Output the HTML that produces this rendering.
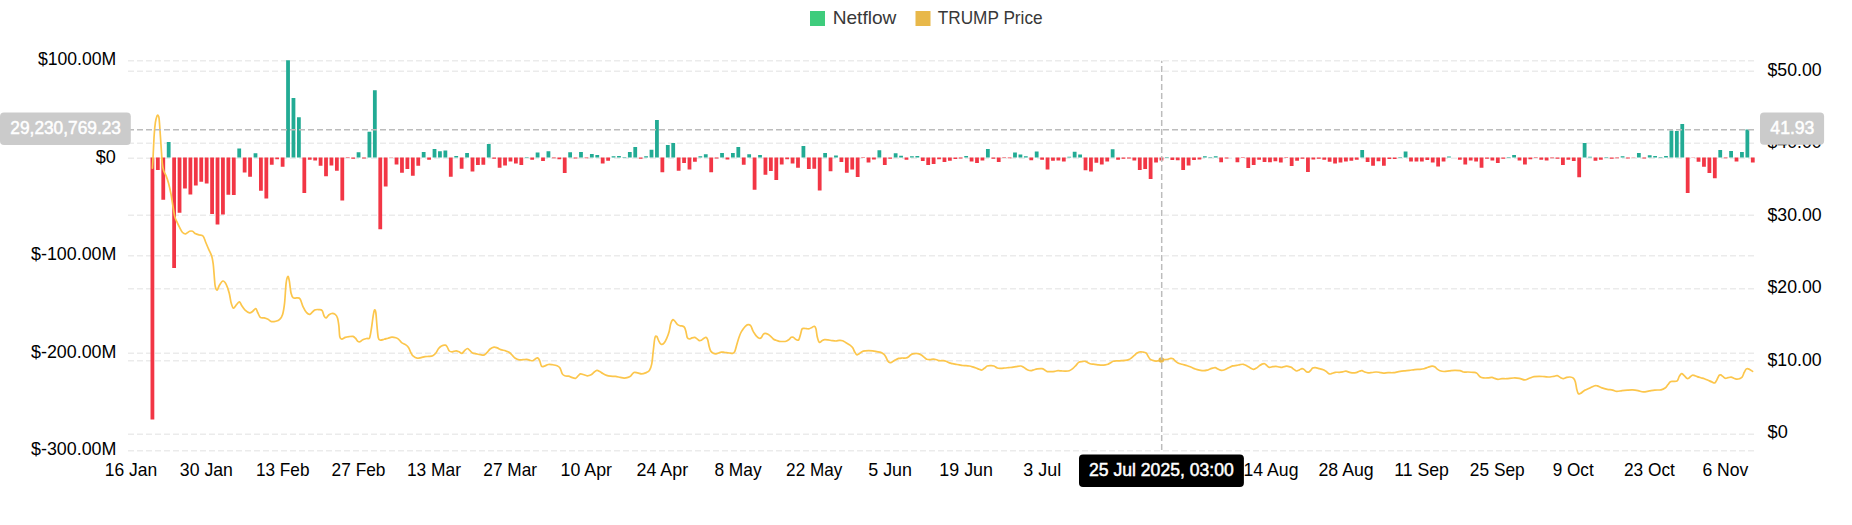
<!DOCTYPE html>
<html><head><meta charset="utf-8"><title>Netflow vs TRUMP Price</title>
<style>html,body{margin:0;padding:0;background:#fff;width:1852px;height:525px;overflow:hidden}</style>
</head><body>
<svg width="1852" height="525" viewBox="0 0 1852 525" style="display:block">
<g stroke="#ebebeb" stroke-width="1.5" stroke-dasharray="6 3" fill="none">
<line x1="128.0" y1="60.75" x2="1755.5" y2="60.75"/>
<line x1="128.0" y1="158.25" x2="1755.5" y2="158.25"/>
<line x1="128.0" y1="255.75" x2="1755.5" y2="255.75"/>
<line x1="128.0" y1="353.25" x2="1755.5" y2="353.25"/>
<line x1="128.0" y1="450.75" x2="1755.5" y2="450.75"/>
<line x1="128.0" y1="71.25" x2="1755.5" y2="71.25"/>
<line x1="128.0" y1="143.25" x2="1755.5" y2="143.25"/>
<line x1="128.0" y1="215.25" x2="1755.5" y2="215.25"/>
<line x1="128.0" y1="288.75" x2="1755.5" y2="288.75"/>
<line x1="128.0" y1="360.75" x2="1755.5" y2="360.75"/>
<line x1="128.0" y1="434.25" x2="1755.5" y2="434.25"/>
</g>
<path fill="#f23645" d="M150.52 157.4h3.79v262h-3.79zM155.94 157.4h3.79v12.5h-3.79zM161.37 157.4h3.79v42.4h-3.79zM172.22 157.4h3.79v110.7h-3.79zM177.64 157.4h3.79v55.3h-3.79zM183.07 157.4h3.79v31.2h-3.79zM188.49 157.4h3.79v37.1h-3.79zM193.92 157.4h3.79v28.2h-3.79zM199.34 157.4h3.79v24.4h-3.79zM204.77 157.4h3.79v26h-3.79zM210.19 157.4h3.79v56.5h-3.79zM215.62 157.4h3.79v67.2h-3.79zM221.04 157.4h3.79v57.2h-3.79zM226.47 157.4h3.79v37.3h-3.79zM231.89 157.4h3.79v37.6h-3.79zM242.74 157.4h3.79v15.2h-3.79zM248.17 157.4h3.79v19.3h-3.79zM259.02 157.4h3.79v33.4h-3.79zM264.44 157.4h3.79v41.2h-3.79zM269.87 157.4h3.79v7.4h-3.79zM275.29 157.4h3.79v1.8h-3.79zM280.72 157.4h3.79v9.3h-3.79zM302.42 157.4h3.79v35.7h-3.79zM307.84 157.4h3.79v2.3h-3.79zM313.27 157.4h3.79v3h-3.79zM318.69 157.4h3.79v8.4h-3.79zM324.12 157.4h3.79v18.8h-3.79zM329.54 157.4h3.79v8.2h-3.79zM334.97 157.4h3.79v13.4h-3.79zM340.39 157.4h3.79v43.1h-3.79zM345.82 157.4h3.79v0.6h-3.79zM351.24 157.4h3.79v1.4h-3.79zM362.09 157.4h3.79v1.1h-3.79zM378.37 157.4h3.79v71.8h-3.79zM383.79 157.4h3.79v29.2h-3.79zM389.22 157.4h3.79v0.4h-3.79zM394.64 157.4h3.79v7.2h-3.79zM400.07 157.4h3.79v15.4h-3.79zM405.49 157.4h3.79v11.6h-3.79zM410.92 157.4h3.79v18.4h-3.79zM416.34 157.4h3.79v8.4h-3.79zM427.19 157.4h3.79v2.3h-3.79zM448.89 157.4h3.79v19.3h-3.79zM459.74 157.4h3.79v11.4h-3.79zM470.59 157.4h3.79v14.1h-3.79zM476.02 157.4h3.79v7.6h-3.79zM481.44 157.4h3.79v7.4h-3.79zM492.29 157.4h3.79v1.3h-3.79zM497.72 157.4h3.79v10.3h-3.79zM503.14 157.4h3.79v8.1h-3.79zM508.57 157.4h3.79v4.2h-3.79zM513.99 157.4h3.79v6.2h-3.79zM519.42 157.4h3.79v7.6h-3.79zM530.27 157.4h3.79v2.3h-3.79zM541.12 157.4h3.79v3.5h-3.79zM551.97 157.4h3.79v0.9h-3.79zM557.39 157.4h3.79v1.8h-3.79zM562.82 157.4h3.79v15.6h-3.79zM573.67 157.4h3.79v1.1h-3.79zM584.52 157.4h3.79v0.9h-3.79zM600.79 157.4h3.79v6.2h-3.79zM606.22 157.4h3.79v3.3h-3.79zM638.77 157.4h3.79v1.3h-3.79zM660.47 157.4h3.79v14.8h-3.79zM676.74 157.4h3.79v13.3h-3.79zM682.17 157.4h3.79v5.5h-3.79zM687.59 157.4h3.79v12h-3.79zM693.02 157.4h3.79v4.3h-3.79zM709.29 157.4h3.79v14.8h-3.79zM714.72 157.4h3.79v1.2h-3.79zM725.57 157.4h3.79v2h-3.79zM741.84 157.4h3.79v7.4h-3.79zM752.69 157.4h3.79v32.3h-3.79zM763.54 157.4h3.79v17.4h-3.79zM768.97 157.4h3.79v13.7h-3.79zM774.39 157.4h3.79v22.5h-3.79zM779.82 157.4h3.79v7.2h-3.79zM785.24 157.4h3.79v1.8h-3.79zM790.67 157.4h3.79v6h-3.79zM796.09 157.4h3.79v10.3h-3.79zM806.94 157.4h3.79v11.6h-3.79zM812.37 157.4h3.79v11.3h-3.79zM817.79 157.4h3.79v33h-3.79zM828.64 157.4h3.79v13.9h-3.79zM839.49 157.4h3.79v4.5h-3.79zM844.92 157.4h3.79v15.4h-3.79zM850.34 157.4h3.79v12h-3.79zM855.77 157.4h3.79v19.5h-3.79zM861.19 157.4h3.79v0.6h-3.79zM866.62 157.4h3.79v5.2h-3.79zM872.04 157.4h3.79v2h-3.79zM882.89 157.4h3.79v7.7h-3.79zM888.32 157.4h3.79v1.3h-3.79zM904.59 157.4h3.79v2.3h-3.79zM920.87 157.4h3.79v3.5h-3.79zM926.29 157.4h3.79v7.7h-3.79zM931.72 157.4h3.79v6.7h-3.79zM937.14 157.4h3.79v1.8h-3.79zM942.57 157.4h3.79v4.5h-3.79zM947.99 157.4h3.79v3.3h-3.79zM953.42 157.4h3.79v1.5h-3.79zM958.84 157.4h3.79v1.1h-3.79zM969.69 157.4h3.79v4.2h-3.79zM975.12 157.4h3.79v5.6h-3.79zM980.54 157.4h3.79v3h-3.79zM991.39 157.4h3.79v1.3h-3.79zM996.82 157.4h3.79v4.5h-3.79zM1002.24 157.4h3.79v0.6h-3.79zM1007.67 157.4h3.79v0.9h-3.79zM1029.37 157.4h3.79v2.8h-3.79zM1040.22 157.4h3.79v2.3h-3.79zM1045.64 157.4h3.79v12.2h-3.79zM1051.07 157.4h3.79v3.3h-3.79zM1056.49 157.4h3.79v3h-3.79zM1061.92 157.4h3.79v4h-3.79zM1083.62 157.4h3.79v12.9h-3.79zM1089.04 157.4h3.79v14.2h-3.79zM1094.47 157.4h3.79v5.4h-3.79zM1099.89 157.4h3.79v7.1h-3.79zM1105.32 157.4h3.79v4.2h-3.79zM1116.17 157.4h3.79v2.3h-3.79zM1121.59 157.4h3.79v1.3h-3.79zM1127.02 157.4h3.79v1.1h-3.79zM1132.44 157.4h3.79v3h-3.79zM1137.87 157.4h3.79v12.5h-3.79zM1143.29 157.4h3.79v11.6h-3.79zM1148.72 157.4h3.79v21.7h-3.79zM1154.14 157.4h3.79v5h-3.79zM1159.57 157.4h3.79v3.2h-3.79zM1170.42 157.4h3.79v2.5h-3.79zM1175.84 157.4h3.79v2.8h-3.79zM1181.27 157.4h3.79v12.7h-3.79zM1186.69 157.4h3.79v8.1h-3.79zM1192.12 157.4h3.79v2.7h-3.79zM1197.54 157.4h3.79v2h-3.79zM1219.24 157.4h3.79v4.8h-3.79zM1224.67 157.4h3.79v1.1h-3.79zM1230.09 157.4h3.79v0.2h-3.79zM1235.52 157.4h3.79v4.8h-3.79zM1240.94 157.4h3.79v0.6h-3.79zM1246.37 157.4h3.79v10.6h-3.79zM1251.79 157.4h3.79v7.6h-3.79zM1257.22 157.4h3.79v2.3h-3.79zM1262.64 157.4h3.79v4.5h-3.79zM1268.07 157.4h3.79v4.8h-3.79zM1273.49 157.4h3.79v3.8h-3.79zM1278.92 157.4h3.79v5.2h-3.79zM1284.34 157.4h3.79v0.6h-3.79zM1289.77 157.4h3.79v8.6h-3.79zM1295.19 157.4h3.79v3.3h-3.79zM1300.62 157.4h3.79v1.3h-3.79zM1306.04 157.4h3.79v14.7h-3.79zM1311.47 157.4h3.79v2h-3.79zM1316.89 157.4h3.79v1.3h-3.79zM1322.32 157.4h3.79v2.3h-3.79zM1327.74 157.4h3.79v4.3h-3.79zM1333.17 157.4h3.79v6.2h-3.79zM1338.59 157.4h3.79v5.2h-3.79zM1344.02 157.4h3.79v4.2h-3.79zM1349.44 157.4h3.79v3.3h-3.79zM1354.87 157.4h3.79v2.3h-3.79zM1365.72 157.4h3.79v4.5h-3.79zM1371.14 157.4h3.79v8.4h-3.79zM1376.57 157.4h3.79v3.8h-3.79zM1381.99 157.4h3.79v8.4h-3.79zM1387.42 157.4h3.79v1.5h-3.79zM1392.84 157.4h3.79v1.5h-3.79zM1409.12 157.4h3.79v4h-3.79zM1414.54 157.4h3.79v4h-3.79zM1419.97 157.4h3.79v4.2h-3.79zM1425.39 157.4h3.79v2.7h-3.79zM1430.82 157.4h3.79v5.1h-3.79zM1436.24 157.4h3.79v9.1h-3.79zM1441.67 157.4h3.79v4.2h-3.79zM1452.52 157.4h3.79v0.2h-3.79zM1457.94 157.4h3.79v2.3h-3.79zM1463.37 157.4h3.79v7.2h-3.79zM1468.79 157.4h3.79v3.2h-3.79zM1474.22 157.4h3.79v4h-3.79zM1479.64 157.4h3.79v10.3h-3.79zM1485.07 157.4h3.79v1.3h-3.79zM1490.49 157.4h3.79v3h-3.79zM1495.92 157.4h3.79v5.7h-3.79zM1501.34 157.4h3.79v1.3h-3.79zM1517.62 157.4h3.79v3h-3.79zM1523.04 157.4h3.79v7.1h-3.79zM1528.47 157.4h3.79v1.8h-3.79zM1533.89 157.4h3.79v0.6h-3.79zM1539.32 157.4h3.79v2.3h-3.79zM1544.74 157.4h3.79v3h-3.79zM1550.17 157.4h3.79v0.9h-3.79zM1555.59 157.4h3.79v1.3h-3.79zM1561.02 157.4h3.79v7.7h-3.79zM1566.44 157.4h3.79v2.3h-3.79zM1571.87 157.4h3.79v3.5h-3.79zM1577.29 157.4h3.79v19.8h-3.79zM1593.57 157.4h3.79v3.3h-3.79zM1598.99 157.4h3.79v2.3h-3.79zM1609.84 157.4h3.79v1.3h-3.79zM1615.27 157.4h3.79v0.9h-3.79zM1626.12 157.4h3.79v1.2h-3.79zM1631.54 157.4h3.79v0.3h-3.79zM1642.39 157.4h3.79v1h-3.79zM1685.79 157.4h3.79v35.6h-3.79zM1691.22 157.4h3.79v0.4h-3.79zM1696.64 157.4h3.79v4.3h-3.79zM1702.07 157.4h3.79v9.3h-3.79zM1707.49 157.4h3.79v15.6h-3.79zM1712.92 157.4h3.79v20.8h-3.79zM1723.77 157.4h3.79v0.9h-3.79zM1734.62 157.4h3.79v4.1h-3.79zM1750.89 157.4h3.79v5.2h-3.79z"/>
<path fill="#22ab94" d="M166.79 142h3.79v15.4h-3.79zM237.32 148.6h3.79v8.8h-3.79zM253.59 153.3h3.79v4.1h-3.79zM286.14 60.2h3.79v97.2h-3.79zM291.57 97.9h3.79v59.5h-3.79zM296.99 117.2h3.79v40.2h-3.79zM356.67 152.3h3.79v5.1h-3.79zM367.52 131.7h3.79v25.7h-3.79zM372.94 90.3h3.79v67.1h-3.79zM421.77 151.9h3.79v5.5h-3.79zM432.62 149.1h3.79v8.3h-3.79zM438.04 151.3h3.79v6.1h-3.79zM443.47 150.5h3.79v6.9h-3.79zM454.32 156h3.79v1.4h-3.79zM465.17 153.1h3.79v4.3h-3.79zM486.87 144.1h3.79v13.3h-3.79zM524.84 157h3.79v0.4h-3.79zM535.69 152.6h3.79v4.8h-3.79zM546.54 151.2h3.79v6.2h-3.79zM568.24 152.3h3.79v5.1h-3.79zM579.09 152.1h3.79v5.3h-3.79zM589.94 154.1h3.79v3.3h-3.79zM595.37 155.1h3.79v2.3h-3.79zM611.64 156.3h3.79v1.1h-3.79zM617.07 156h3.79v1.4h-3.79zM622.49 157h3.79v0.4h-3.79zM627.92 152.1h3.79v5.3h-3.79zM633.34 147h3.79v10.4h-3.79zM644.19 156.2h3.79v1.2h-3.79zM649.62 149.8h3.79v7.6h-3.79zM655.04 120h3.79v37.4h-3.79zM665.89 145h3.79v12.4h-3.79zM671.32 143h3.79v14.4h-3.79zM698.44 156.2h3.79v1.2h-3.79zM703.87 154.2h3.79v3.2h-3.79zM720.14 153h3.79v4.4h-3.79zM730.99 153h3.79v4.4h-3.79zM736.42 146.9h3.79v10.5h-3.79zM747.27 154.2h3.79v3.2h-3.79zM758.12 155h3.79v2.4h-3.79zM801.52 146h3.79v11.4h-3.79zM823.22 152.9h3.79v4.5h-3.79zM834.07 155.5h3.79v1.9h-3.79zM877.47 150.2h3.79v7.2h-3.79zM893.74 153.3h3.79v4.1h-3.79zM899.17 155.8h3.79v1.6h-3.79zM910.02 156.3h3.79v1.1h-3.79zM915.44 156h3.79v1.4h-3.79zM964.27 156h3.79v1.4h-3.79zM985.97 148.9h3.79v8.5h-3.79zM1013.09 152.6h3.79v4.8h-3.79zM1018.52 154.4h3.79v3h-3.79zM1023.94 156.2h3.79v1.2h-3.79zM1034.79 151.5h3.79v5.9h-3.79zM1067.34 156.7h3.79v0.7h-3.79zM1072.77 151.7h3.79v5.7h-3.79zM1078.19 154.4h3.79v3h-3.79zM1110.74 149.2h3.79v8.2h-3.79zM1164.99 157h3.79v0.4h-3.79zM1202.97 156.3h3.79v1.1h-3.79zM1208.39 157h3.79v0.4h-3.79zM1213.82 156.3h3.79v1.1h-3.79zM1360.29 149.9h3.79v7.5h-3.79zM1398.27 157h3.79v0.4h-3.79zM1403.69 151.5h3.79v5.9h-3.79zM1447.09 156.5h3.79v0.9h-3.79zM1506.77 157h3.79v0.4h-3.79zM1512.19 155.1h3.79v2.3h-3.79zM1582.72 142.9h3.79v14.5h-3.79zM1588.14 156.7h3.79v0.7h-3.79zM1604.42 157h3.79v0.4h-3.79zM1620.69 156.3h3.79v1.1h-3.79zM1636.97 153.1h3.79v4.3h-3.79zM1647.82 155.3h3.79v2.1h-3.79zM1653.24 156.1h3.79v1.3h-3.79zM1658.67 157.1h3.79v0.3h-3.79zM1664.09 156h3.79v1.4h-3.79zM1669.52 130.6h3.79v26.8h-3.79zM1674.94 130.9h3.79v26.5h-3.79zM1680.37 124.1h3.79v33.3h-3.79zM1718.34 150.1h3.79v7.3h-3.79zM1729.19 151.1h3.79v6.3h-3.79zM1740.04 152.1h3.79v5.3h-3.79zM1745.47 129.4h3.79v28h-3.79z"/>
<path d="M152.4 168.2C152.53 165.93 152.9 160.17 153.2 154.6C153.5 149.03 153.83 140.17 154.2 134.8C154.57 129.43 154.95 125.5 155.4 122.4C155.85 119.3 156.45 117.37 156.9 116.2C157.35 115.03 157.73 114.98 158.1 115.4C158.47 115.82 158.73 115.47 159.1 118.7C159.47 121.93 159.93 129.65 160.3 134.8C160.67 139.95 160.97 144.87 161.3 149.6C161.63 154.33 161.92 159.7 162.3 163.2C162.68 166.7 162.98 168.53 163.6 170.6C164.22 172.67 165.18 173.53 166 175.6C166.82 177.67 167.67 179.9 168.5 183C169.33 186.1 170.25 190.28 171 194.2C171.75 198.12 172.38 202.8 173 206.5C173.62 210.2 174.08 213.92 174.7 216.4C175.32 218.88 175.87 219.53 176.7 221.4C177.53 223.27 178.72 225.75 179.7 227.6C180.68 229.45 181.58 231.47 182.6 232.5C183.62 233.53 184.63 234 185.8 233.8C186.97 233.6 188.48 231.72 189.6 231.3C190.72 230.88 191.48 230.88 192.5 231.3C193.52 231.72 194.53 233.18 195.7 233.8C196.87 234.42 198.25 234.6 199.5 235C200.75 235.4 202.15 234.95 203.2 236.2C204.25 237.45 204.88 240.32 205.8 242.5C206.72 244.68 207.72 247.03 208.7 249.3C209.68 251.57 210.95 253.67 211.7 256.1C212.45 258.53 212.78 260.67 213.2 263.9C213.62 267.13 213.87 271.78 214.2 275.5C214.53 279.22 214.72 283.77 215.2 286.2C215.68 288.63 216.4 290.25 217.1 290.1C217.8 289.95 218.43 286.82 219.4 285.3C220.37 283.78 221.77 281.17 222.9 281C224.03 280.83 225.15 282.3 226.2 284.3C227.25 286.3 228.38 289.92 229.2 293C230.02 296.08 230.4 300.27 231.1 302.8C231.8 305.33 232.5 307.88 233.4 308.2C234.3 308.52 235.48 305.77 236.5 304.7C237.52 303.63 238.62 301.63 239.5 301.8C240.38 301.97 240.87 304.32 241.8 305.7C242.73 307.08 243.8 308.9 245.1 310.1C246.4 311.3 248.37 312.67 249.6 312.9C250.83 313.13 251.47 312.22 252.5 311.5C253.53 310.78 254.93 308.43 255.8 308.6C256.67 308.77 256.95 311.05 257.7 312.5C258.45 313.95 259.22 316.4 260.3 317.3C261.38 318.2 262.92 317.57 264.2 317.9C265.48 318.23 266.78 318.68 268 319.3C269.22 319.92 270.2 321.28 271.5 321.6C272.8 321.92 274.43 321.58 275.8 321.2C277.17 320.82 278.57 320.43 279.7 319.3C280.83 318.17 281.78 317.15 282.6 314.4C283.42 311.65 284.02 307.98 284.6 302.8C285.18 297.62 285.55 287.68 286.1 283.3C286.65 278.92 287.35 276.82 287.9 276.5C288.45 276.18 288.88 278.65 289.4 281.4C289.92 284.15 290.35 290.25 291 293C291.65 295.75 292.33 297.08 293.3 297.9C294.27 298.72 295.67 297.73 296.8 297.9C297.93 298.07 299.07 297.45 300.1 298.9C301.13 300.35 301.93 304.33 303 306.6C304.07 308.87 305.37 311.2 306.5 312.5C307.63 313.8 308.43 314.82 309.8 314.4C311.17 313.98 313.17 310.8 314.7 310C316.23 309.2 317.77 309.52 319 309.6C320.23 309.68 321.22 309.37 322.1 310.5C322.98 311.63 323.62 315.17 324.3 316.4C324.98 317.63 325.47 318.13 326.2 317.9C326.93 317.67 327.78 315.73 328.7 315C329.62 314.27 330.62 313.6 331.7 313.5C332.78 313.4 334.23 313.67 335.2 314.4C336.17 315.13 336.88 315.95 337.5 317.9C338.12 319.85 338.52 322.95 338.9 326.1C339.28 329.25 339.32 334.63 339.8 336.8C340.28 338.97 340.88 339 341.8 339.1C342.72 339.2 344.07 337.82 345.3 337.4C346.53 336.98 347.92 336.77 349.2 336.6C350.48 336.43 351.97 336.13 353 336.4C354.03 336.67 354.58 337.38 355.4 338.2C356.22 339.02 357.15 340.72 357.9 341.3C358.65 341.88 359.08 341.97 359.9 341.7C360.72 341.43 361.67 340.23 362.8 339.7C363.93 339.17 365.57 338.82 366.7 338.5C367.83 338.18 368.8 339.55 369.6 337.8C370.4 336.05 370.92 331.57 371.5 328C372.08 324.43 372.62 319.37 373.1 316.4C373.58 313.43 373.95 310.85 374.4 310.2C374.85 309.55 375.37 309.85 375.8 312.5C376.23 315.15 376.58 321.88 377 326.1C377.42 330.32 377.75 335.47 378.3 337.8C378.85 340.13 379.32 339.85 380.3 340.1C381.28 340.35 382.92 339.62 384.2 339.3C385.48 338.98 386.72 338.55 388 338.2C389.28 337.85 390.6 337.27 391.9 337.2C393.2 337.13 394.67 337.45 395.8 337.8C396.93 338.15 397.73 338.5 398.7 339.3C399.67 340.1 400.47 341.72 401.6 342.6C402.73 343.48 404.35 343.78 405.5 344.6C406.65 345.42 407.58 346.12 408.5 347.5C409.42 348.88 410.2 351.45 411 352.9C411.8 354.35 412.27 355.32 413.3 356.2C414.33 357.08 415.9 357.97 417.2 358.2C418.5 358.43 419.8 357.87 421.1 357.6C422.4 357.33 423.7 356.8 425 356.6C426.3 356.4 427.6 356.55 428.9 356.4C430.2 356.25 431.67 356.22 432.8 355.7C433.93 355.18 434.73 354.5 435.7 353.3C436.67 352.1 437.63 349.73 438.6 348.5C439.57 347.27 440.37 346.45 441.5 345.9C442.63 345.35 444.43 345 445.4 345.2C446.37 345.4 446.65 346.13 447.3 347.1C447.95 348.07 448.48 350.22 449.3 351C450.12 351.78 451.07 351.83 452.2 351.8C453.33 351.77 454.97 350.8 456.1 350.8C457.23 350.8 458.03 351.38 459 351.8C459.97 352.22 460.93 353.53 461.9 353.3C462.87 353.07 463.88 351.2 464.8 350.4C465.72 349.6 466.58 348.5 467.4 348.5C468.22 348.5 468.83 349.67 469.7 350.4C470.57 351.13 471.47 352.32 472.6 352.9C473.73 353.48 475.2 353.6 476.5 353.9C477.8 354.2 479.1 354.53 480.4 354.7C481.7 354.87 483.17 355.3 484.3 354.9C485.43 354.5 486.23 353.28 487.2 352.3C488.17 351.32 488.97 349.87 490.1 349C491.23 348.13 492.8 347.28 494 347.1C495.2 346.92 496.18 347.48 497.3 347.9C498.42 348.32 499.32 349.1 500.7 349.6C502.08 350.1 504.15 350.42 505.6 350.9C507.05 351.38 508.27 351.75 509.4 352.5C510.53 353.25 511.42 354.43 512.4 355.4C513.38 356.37 514.17 357.55 515.3 358.3C516.43 359.05 517.92 359.67 519.2 359.9C520.48 360.13 521.72 359.8 523 359.7C524.28 359.6 525.75 359.2 526.9 359.3C528.05 359.4 528.92 360.07 529.9 360.3C530.88 360.53 531.83 360.97 532.8 360.7C533.77 360.43 534.9 359.17 535.7 358.7C536.5 358.23 536.95 357.63 537.6 357.9C538.25 358.17 538.95 358.93 539.6 360.3C540.25 361.67 540.7 365.13 541.5 366.1C542.3 367.07 543.27 366.37 544.4 366.1C545.53 365.83 547 364.73 548.3 364.5C549.6 364.27 550.73 364.5 552.2 364.7C553.67 364.9 555.8 365.15 557.1 365.7C558.4 366.25 559.13 366.63 560 368C560.87 369.37 561.5 372.6 562.3 373.9C563.1 375.2 563.73 375.42 564.8 375.8C565.87 376.18 567.57 375.93 568.7 376.2C569.83 376.47 570.47 377.05 571.6 377.4C572.73 377.75 574.45 378.5 575.5 378.3C576.55 378.1 577.08 376.93 577.9 376.2C578.72 375.47 579.5 374.18 580.4 373.9C581.3 373.62 582.17 374.18 583.3 374.5C584.43 374.82 585.9 375.75 587.2 375.8C588.5 375.85 589.97 375.38 591.1 374.8C592.23 374.22 593.03 373.03 594 372.3C594.97 371.57 595.93 370.53 596.9 370.4C597.87 370.27 598.82 370.98 599.8 371.5C600.78 372.02 601.67 372.85 602.8 373.5C603.93 374.15 605.32 374.95 606.6 375.4C607.88 375.85 609.03 376.03 610.5 376.2C611.97 376.37 613.78 376.2 615.4 376.4C617.02 376.6 618.75 377.12 620.2 377.4C621.65 377.68 622.8 378.1 624.1 378.1C625.4 378.1 626.87 377.78 628 377.4C629.13 377.02 629.92 376.62 630.9 375.8C631.88 374.98 632.77 372.98 633.9 372.5C635.03 372.02 636.42 372.67 637.7 372.9C638.98 373.13 640.3 373.9 641.6 373.9C642.9 373.9 644.2 373.48 645.5 372.9C646.8 372.32 648.37 371.85 649.4 370.4C650.43 368.95 651.05 367.52 651.7 364.2C652.35 360.88 652.77 354.88 653.3 350.5C653.83 346.12 654.32 340.23 654.9 337.9C655.48 335.57 656.17 336.02 656.8 336.5C657.43 336.98 657.98 339.5 658.7 340.8C659.42 342.1 660.22 343.9 661.1 344.3C661.98 344.7 663.07 344.2 664 343.2C664.93 342.2 665.85 340.22 666.7 338.3C667.55 336.38 668.43 334.13 669.1 331.7C669.77 329.27 670.1 325.7 670.7 323.7C671.3 321.7 672.03 320.15 672.7 319.7C673.37 319.25 673.93 320.23 674.7 321C675.47 321.77 676.42 323.52 677.3 324.3C678.18 325.08 679.1 325.4 680 325.7C680.9 326 681.92 325.77 682.7 326.1C683.48 326.43 684.15 326.77 684.7 327.7C685.25 328.63 685.57 330.03 686 331.7C686.43 333.37 686.75 336.48 687.3 337.7C687.85 338.92 688.52 338.97 689.3 339C690.08 339.03 691.1 338.17 692 337.9C692.9 337.63 693.92 337.28 694.7 337.4C695.48 337.52 695.93 338.07 696.7 338.6C697.47 339.13 698.53 340.32 699.3 340.6C700.07 340.88 700.52 340.68 701.3 340.3C702.08 339.92 703.22 338.78 704 338.3C704.78 337.82 705.38 337.17 706 337.4C706.62 337.63 707.18 338.22 707.7 339.7C708.22 341.18 708.6 344.42 709.1 346.3C709.6 348.18 710 349.83 710.7 351C711.4 352.17 712.42 352.83 713.3 353.3C714.18 353.77 715.1 353.85 716 353.8C716.9 353.75 717.82 353.28 718.7 353C719.58 352.72 720.42 352.22 721.3 352.1C722.18 351.98 723.1 352.2 724 352.3C724.9 352.4 725.82 352.58 726.7 352.7C727.58 352.82 728.3 352.9 729.3 353C730.3 353.1 731.8 353.52 732.7 353.3C733.6 353.08 734.03 353.08 734.7 351.7C735.37 350.32 736.03 347.23 736.7 345C737.37 342.77 738.03 340.3 738.7 338.3C739.37 336.3 740.03 334.43 740.7 333C741.37 331.57 741.93 330.82 742.7 329.7C743.47 328.58 744.42 327.13 745.3 326.3C746.18 325.47 747.1 324.8 748 324.7C748.9 324.6 749.92 324.77 750.7 325.7C751.48 326.63 752.03 328.97 752.7 330.3C753.37 331.63 754.03 332.7 754.7 333.7C755.37 334.7 755.93 335.53 756.7 336.3C757.47 337.07 758.53 338.07 759.3 338.3C760.07 338.53 760.63 338.37 761.3 337.7C761.97 337.03 762.63 335.03 763.3 334.3C763.97 333.57 764.52 333.3 765.3 333.3C766.08 333.3 767.1 333.8 768 334.3C768.9 334.8 769.82 335.52 770.7 336.3C771.58 337.08 772.42 338.33 773.3 339C774.18 339.67 775 339.92 776 340.3C777 340.68 778.18 341.1 779.3 341.3C780.42 341.5 781.58 341.5 782.7 341.5C783.82 341.5 785 341.6 786 341.3C787 341 787.82 340.37 788.7 339.7C789.58 339.03 790.53 337.7 791.3 337.3C792.07 336.9 792.52 336.95 793.3 337.3C794.08 337.65 795.1 338.97 796 339.4C796.9 339.83 797.92 340.85 798.7 339.9C799.48 338.95 800.15 335.52 800.7 333.7C801.25 331.88 801.45 329.9 802 329C802.55 328.1 803.22 328.35 804 328.3C804.78 328.25 805.82 328.63 806.7 328.7C807.58 328.77 808.42 328.92 809.3 328.7C810.18 328.48 811.15 327.8 812 327.4C812.85 327 813.73 326.03 814.4 326.3C815.07 326.57 815.52 327.22 816 329C816.48 330.78 816.75 334.78 817.3 337C817.85 339.22 818.52 341.68 819.3 342.3C820.08 342.92 821.1 341.13 822 340.7C822.9 340.27 823.7 339.83 824.7 339.7C825.7 339.57 826.78 339.75 828 339.9C829.22 340.05 830.67 340.42 832 340.6C833.33 340.78 834.78 341.03 836 341C837.22 340.97 838.18 340.45 839.3 340.4C840.42 340.35 841.58 340.32 842.7 340.7C843.82 341.08 844.78 341.97 846 342.7C847.22 343.43 848.88 344.27 850 345.1C851.12 345.93 851.92 346.55 852.7 347.7C853.48 348.85 854.03 350.83 854.7 352C855.37 353.17 856.03 354.37 856.7 354.7C857.37 355.03 857.82 354.5 858.7 354C859.58 353.5 860.9 352.22 862 351.7C863.1 351.18 864.18 351.07 865.3 350.9C866.42 350.73 867.47 350.7 868.7 350.7C869.93 350.7 871.37 350.75 872.7 350.9C874.03 351.05 875.37 351.35 876.7 351.6C878.03 351.85 879.48 351.93 880.7 352.4C881.92 352.87 883.12 353.58 884 354.4C884.88 355.22 885.33 356.15 886 357.3C886.67 358.45 887.33 360.4 888 361.3C888.67 362.2 889.22 362.65 890 362.7C890.78 362.75 891.82 362.05 892.7 361.6C893.58 361.15 894.3 360.53 895.3 360C896.3 359.47 897.58 358.73 898.7 358.4C899.82 358.07 900.78 358.07 902 358C903.22 357.93 904.88 358.22 906 358C907.12 357.78 907.82 357.3 908.7 356.7C909.58 356.1 910.3 354.92 911.3 354.4C912.3 353.88 913.58 353.72 914.7 353.6C915.82 353.48 916.9 353.48 918 353.7C919.1 353.92 920.3 354.33 921.3 354.9C922.3 355.47 923.1 356.37 924 357.1C924.9 357.83 925.7 358.88 926.7 359.3C927.7 359.72 928.9 359.63 930 359.6C931.1 359.57 932.18 359.08 933.3 359.1C934.42 359.12 935.7 359.43 936.7 359.7C937.7 359.97 938.2 360.53 939.3 360.7C940.4 360.87 942.18 360.6 943.3 360.7C944.42 360.8 945 360.93 946 361.3C947 361.67 948.18 362.5 949.3 362.9C950.42 363.3 951.58 363.47 952.7 363.7C953.82 363.93 954.9 364.1 956 364.3C957.1 364.5 958.18 364.7 959.3 364.9C960.42 365.1 961.58 365.38 962.7 365.5C963.82 365.62 964.9 365.52 966 365.6C967.1 365.68 968.18 365.78 969.3 366C970.42 366.22 971.58 366.57 972.7 366.9C973.82 367.23 974.9 367.6 976 368C977.1 368.4 978.3 368.97 979.3 369.3C980.3 369.63 981.1 370.22 982 370C982.9 369.78 983.82 368.67 984.7 368C985.58 367.33 986.3 366.38 987.3 366C988.3 365.62 989.58 365.7 990.7 365.7C991.82 365.7 992.9 365.62 994 366C995.1 366.38 996.18 367.62 997.3 368C998.42 368.38 999.47 368.3 1000.7 368.3C1001.93 368.3 1003.37 368.12 1004.7 368C1006.03 367.88 1007.48 367.72 1008.7 367.6C1009.92 367.48 1010.78 367.45 1012 367.3C1013.22 367.15 1014.55 366.92 1016 366.7C1017.45 366.48 1019.37 365.85 1020.7 366C1022.03 366.15 1022.9 366.98 1024 367.6C1025.1 368.22 1026.18 369.18 1027.3 369.7C1028.42 370.22 1029.58 370.7 1030.7 370.7C1031.82 370.7 1032.9 370 1034 369.7C1035.1 369.4 1035.97 369.07 1037.3 368.9C1038.63 368.73 1040.77 368.52 1042 368.7C1043.23 368.88 1043.82 369.52 1044.7 370C1045.58 370.48 1046.2 371.33 1047.3 371.6C1048.4 371.87 1050.07 371.65 1051.3 371.6C1052.53 371.55 1053.58 371.45 1054.7 371.3C1055.82 371.15 1056.9 370.77 1058 370.7C1059.1 370.63 1060.08 370.83 1061.3 370.9C1062.52 370.97 1063.97 371.13 1065.3 371.1C1066.63 371.07 1068.07 371.1 1069.3 370.7C1070.53 370.3 1071.58 369.6 1072.7 368.7C1073.82 367.8 1075 366.35 1076 365.3C1077 364.25 1077.7 363.02 1078.7 362.4C1079.7 361.78 1080.9 361.78 1082 361.6C1083.1 361.42 1084.3 361.12 1085.3 361.3C1086.3 361.48 1087 362.25 1088 362.7C1089 363.15 1090.18 363.73 1091.3 364C1092.42 364.27 1093.47 364.15 1094.7 364.3C1095.93 364.45 1097.48 364.77 1098.7 364.9C1099.92 365.03 1100.9 365.1 1102 365.1C1103.1 365.1 1104.3 365.03 1105.3 364.9C1106.3 364.77 1107.1 364.67 1108 364.3C1108.9 363.93 1109.82 363.2 1110.7 362.7C1111.58 362.2 1112.2 361.6 1113.3 361.3C1114.4 361 1115.97 361 1117.3 360.9C1118.63 360.8 1119.97 360.78 1121.3 360.7C1122.63 360.62 1124.07 360.58 1125.3 360.4C1126.53 360.22 1127.7 360 1128.7 359.6C1129.7 359.2 1130.42 358.65 1131.3 358C1132.18 357.35 1133.1 356.48 1134 355.7C1134.9 354.92 1135.82 353.92 1136.7 353.3C1137.58 352.68 1138.3 352.22 1139.3 352C1140.3 351.78 1141.58 351.85 1142.7 352C1143.82 352.15 1145.12 352.23 1146 352.9C1146.88 353.57 1147.33 354.97 1148 356C1148.67 357.03 1149.22 358.37 1150 359.1C1150.78 359.83 1151.7 360.07 1152.7 360.4C1153.7 360.73 1154.9 361.05 1156 361.1C1157.1 361.15 1158.42 360.88 1159.3 360.7C1160.18 360.52 1160.4 360.18 1161.3 360C1162.2 359.82 1163.58 359.72 1164.7 359.6C1165.82 359.48 1167 359.5 1168 359.3C1169 359.1 1169.87 358.5 1170.7 358.4C1171.53 358.3 1172.23 358.27 1173 358.7C1173.77 359.13 1174.47 360.28 1175.3 361C1176.13 361.72 1176.88 362.45 1178 363C1179.12 363.55 1180.45 363.85 1182 364.3C1183.55 364.75 1185.75 365.2 1187.3 365.7C1188.85 366.2 1189.97 366.75 1191.3 367.3C1192.63 367.85 1193.97 368.53 1195.3 369C1196.63 369.47 1197.85 369.82 1199.3 370.1C1200.75 370.38 1202.67 370.7 1204 370.7C1205.33 370.7 1206.3 370.38 1207.3 370.1C1208.3 369.82 1209.1 369.33 1210 369C1210.9 368.67 1211.82 368.32 1212.7 368.1C1213.58 367.88 1214.42 367.55 1215.3 367.7C1216.18 367.85 1217 368.57 1218 369C1219 369.43 1220.18 370.18 1221.3 370.3C1222.42 370.42 1223.47 370.13 1224.7 369.7C1225.93 369.27 1227.37 368.33 1228.7 367.7C1230.03 367.07 1231.37 366.28 1232.7 365.9C1234.03 365.52 1235.48 365.62 1236.7 365.4C1237.92 365.18 1238.9 364.78 1240 364.6C1241.1 364.42 1242.18 364.12 1243.3 364.3C1244.42 364.48 1245.58 365.13 1246.7 365.7C1247.82 366.27 1248.9 367.1 1250 367.7C1251.1 368.3 1252.3 369.2 1253.3 369.3C1254.3 369.4 1255 368.87 1256 368.3C1257 367.73 1258.3 366.6 1259.3 365.9C1260.3 365.2 1261.1 364.47 1262 364.1C1262.9 363.73 1263.92 363.48 1264.7 363.7C1265.48 363.92 1265.93 364.8 1266.7 365.4C1267.47 366 1268.3 367.08 1269.3 367.3C1270.3 367.52 1271.58 366.87 1272.7 366.7C1273.82 366.53 1274.9 366.25 1276 366.3C1277.1 366.35 1278.3 366.83 1279.3 367C1280.3 367.17 1281 367.42 1282 367.3C1283 367.18 1284.3 366.47 1285.3 366.3C1286.3 366.13 1287 366.13 1288 366.3C1289 366.47 1290.3 366.78 1291.3 367.3C1292.3 367.82 1293.1 368.78 1294 369.4C1294.9 370.02 1295.82 370.92 1296.7 371C1297.58 371.08 1298.42 370.3 1299.3 369.9C1300.18 369.5 1301.22 368.68 1302 368.6C1302.78 368.52 1303.33 368.93 1304 369.4C1304.67 369.87 1305.22 370.95 1306 371.4C1306.78 371.85 1307.92 372.28 1308.7 372.1C1309.48 371.92 1310.03 370.97 1310.7 370.3C1311.37 369.63 1311.93 368.53 1312.7 368.1C1313.47 367.67 1314.2 367.62 1315.3 367.7C1316.4 367.78 1317.97 368.27 1319.3 368.6C1320.63 368.93 1322.18 369.25 1323.3 369.7C1324.42 370.15 1325 370.6 1326 371.3C1327 372 1328.3 373.55 1329.3 373.9C1330.3 374.25 1331 373.67 1332 373.4C1333 373.13 1334.08 372.48 1335.3 372.3C1336.52 372.12 1338.07 372.37 1339.3 372.3C1340.53 372.23 1341.58 372.08 1342.7 371.9C1343.82 371.72 1344.67 371.07 1346 371.2C1347.33 371.33 1349.03 372.45 1350.7 372.7C1352.37 372.95 1354.57 372.93 1356 372.7C1357.43 372.47 1358.3 371.63 1359.3 371.3C1360.3 370.97 1361.1 370.58 1362 370.7C1362.9 370.82 1363.7 371.65 1364.7 372C1365.7 372.35 1366.78 372.72 1368 372.8C1369.22 372.88 1370.67 372.63 1372 372.5C1373.33 372.37 1374.78 372.03 1376 372C1377.22 371.97 1378.08 372.12 1379.3 372.3C1380.52 372.48 1381.85 373.03 1383.3 373.1C1384.75 373.17 1386.33 372.77 1388 372.7C1389.67 372.63 1391.52 372.87 1393.3 372.7C1395.08 372.53 1396.92 372 1398.7 371.7C1400.48 371.4 1402.23 371.12 1404 370.9C1405.77 370.68 1407.52 370.62 1409.3 370.4C1411.08 370.18 1412.92 369.78 1414.7 369.6C1416.48 369.42 1418.45 369.45 1420 369.3C1421.55 369.15 1422.67 369.03 1424 368.7C1425.33 368.37 1426.67 367.73 1428 367.3C1429.33 366.87 1430.88 366.2 1432 366.1C1433.12 366 1433.82 366.2 1434.7 366.7C1435.58 367.2 1436.42 368.43 1437.3 369.1C1438.18 369.77 1438.88 370.3 1440 370.7C1441.12 371.1 1442.45 371.47 1444 371.5C1445.55 371.53 1447.52 371.1 1449.3 370.9C1451.08 370.7 1452.92 370.33 1454.7 370.3C1456.48 370.27 1458.57 370.42 1460 370.7C1461.43 370.98 1461.97 371.78 1463.3 372C1464.63 372.22 1466.33 371.95 1468 372C1469.67 372.05 1471.85 372.12 1473.3 372.3C1474.75 372.48 1475.58 372.37 1476.7 373.1C1477.82 373.83 1478.9 375.9 1480 376.7C1481.1 377.5 1481.97 377.7 1483.3 377.9C1484.63 378.1 1486.55 378 1488 377.9C1489.45 377.8 1490.88 377.22 1492 377.3C1493.12 377.38 1493.7 378.07 1494.7 378.4C1495.7 378.73 1496.78 379.25 1498 379.3C1499.22 379.35 1500.55 378.8 1502 378.7C1503.45 378.6 1504.82 378.82 1506.7 378.7C1508.58 378.58 1511.2 378.07 1513.3 378C1515.4 377.93 1517.4 377.98 1519.3 378.3C1521.2 378.62 1523.03 379.9 1524.7 379.9C1526.37 379.9 1527.75 378.83 1529.3 378.3C1530.85 377.77 1532.33 377.03 1534 376.7C1535.67 376.37 1537.52 376.3 1539.3 376.3C1541.08 376.3 1542.92 376.58 1544.7 376.7C1546.48 376.82 1548.45 377.07 1550 377C1551.55 376.93 1552.78 376.52 1554 376.3C1555.22 376.08 1556.18 375.47 1557.3 375.7C1558.42 375.93 1559.7 377.2 1560.7 377.7C1561.7 378.2 1562.3 378.75 1563.3 378.7C1564.3 378.65 1565.58 377.68 1566.7 377.4C1567.82 377.12 1568.9 376.88 1570 377C1571.1 377.12 1572.42 377.32 1573.3 378.1C1574.18 378.88 1574.73 379.88 1575.3 381.7C1575.87 383.52 1576.2 387 1576.7 389C1577.2 391 1577.63 392.98 1578.3 393.7C1578.97 394.42 1579.63 393.87 1580.7 393.3C1581.77 392.73 1583.15 391.2 1584.7 390.3C1586.25 389.4 1588.33 388.67 1590 387.9C1591.67 387.13 1593.48 386.03 1594.7 385.7C1595.92 385.37 1596.08 385.53 1597.3 385.9C1598.52 386.27 1600.33 387.33 1602 387.9C1603.67 388.47 1605.52 388.93 1607.3 389.3C1609.08 389.67 1611.13 389.75 1612.7 390.1C1614.27 390.45 1615.15 391.32 1616.7 391.4C1618.25 391.48 1620.23 390.82 1622 390.6C1623.77 390.38 1625.52 390.22 1627.3 390.1C1629.08 389.98 1630.92 389.82 1632.7 389.9C1634.48 389.98 1636.23 390.27 1638 390.6C1639.77 390.93 1641.4 391.85 1643.3 391.9C1645.2 391.95 1647.5 391.2 1649.4 390.9C1651.3 390.6 1652.77 390.28 1654.7 390.1C1656.63 389.92 1659.27 390.15 1661 389.8C1662.73 389.45 1663.97 388.83 1665.1 388C1666.23 387.17 1666.92 385.85 1667.8 384.8C1668.68 383.75 1669.45 382.27 1670.4 381.7C1671.35 381.13 1672.37 381.55 1673.5 381.4C1674.63 381.25 1676.23 381.63 1677.2 380.8C1678.17 379.97 1678.57 377.6 1679.3 376.4C1680.03 375.2 1680.82 373.77 1681.6 373.6C1682.38 373.43 1683.07 374.58 1684 375.4C1684.93 376.22 1686.32 378.12 1687.2 378.5C1688.08 378.88 1688.52 378.22 1689.3 377.7C1690.08 377.18 1691.12 375.78 1691.9 375.4C1692.68 375.02 1693.13 375.2 1694 375.4C1694.87 375.6 1695.97 376.22 1697.1 376.6C1698.23 376.98 1699.58 377.35 1700.8 377.7C1702.02 378.05 1703.18 378.27 1704.4 378.7C1705.62 379.13 1706.87 379.77 1708.1 380.3C1709.33 380.83 1710.67 381.47 1711.8 381.9C1712.93 382.33 1714.03 383.28 1714.9 382.9C1715.77 382.52 1716.3 380.85 1717 379.6C1717.7 378.35 1718.48 376.18 1719.1 375.4C1719.72 374.62 1720.08 374.73 1720.7 374.9C1721.32 375.07 1722.02 375.83 1722.8 376.4C1723.58 376.97 1724.53 378.08 1725.4 378.3C1726.27 378.52 1727.03 377.88 1728 377.7C1728.97 377.52 1730.23 377.1 1731.2 377.2C1732.17 377.3 1732.93 377.98 1733.8 378.3C1734.67 378.62 1735.45 379.03 1736.4 379.1C1737.35 379.17 1738.53 379.05 1739.5 378.7C1740.47 378.35 1741.4 378.08 1742.2 377C1743 375.92 1743.6 373.55 1744.3 372.2C1745 370.85 1745.62 369.42 1746.4 368.9C1747.18 368.38 1747.97 368.68 1749 369.1C1750.03 369.52 1752 371.02 1752.6 371.4" fill="none" stroke="#fcc64c" stroke-width="1.7" stroke-linejoin="round" stroke-linecap="round"/>
<circle cx="1161.3" cy="360" r="2.8" fill="#e8b84a"/>
<line x1="128.0" y1="129.8" x2="1755.5" y2="129.8" stroke="#bcbcbc" stroke-width="1.5" stroke-dasharray="6 3"/>
<line x1="1161.7" y1="449.9" x2="1161.7" y2="60.7" stroke="#bcbcbc" stroke-width="1.5" stroke-dasharray="6 3"/>
<rect x="810" y="11" width="15" height="15" fill="#3ecc7c"/>
<rect x="915.5" y="11" width="15" height="15" fill="#e8b84a"/>
<g font-family="'Liberation Sans', Arial, sans-serif" font-size="17.7">
<text x="832.67" y="23.8" fill="#383838" textLength="63.79" lengthAdjust="spacingAndGlyphs">Netflow</text>
<text x="937.7" y="23.9" fill="#383838" textLength="104.93" lengthAdjust="spacingAndGlyphs">TRUMP Price</text>
<text x="37.89" y="65" fill="#000" textLength="78.4" lengthAdjust="spacingAndGlyphs">$100.00M</text>
<text x="95.76" y="163.3" fill="#000" textLength="20.11" lengthAdjust="spacingAndGlyphs">$0</text>
<text x="31.01" y="260" fill="#000" textLength="85.4" lengthAdjust="spacingAndGlyphs">$-100.00M</text>
<text x="31.01" y="358" fill="#000" textLength="85.4" lengthAdjust="spacingAndGlyphs">$-200.00M</text>
<text x="31.01" y="455.2" fill="#000" textLength="85.4" lengthAdjust="spacingAndGlyphs">$-300.00M</text>
<text x="1767.52" y="75.5" fill="#000" textLength="54.17" lengthAdjust="spacingAndGlyphs">$50.00</text>
<text x="1767.52" y="147.9" fill="#000" textLength="54.17" lengthAdjust="spacingAndGlyphs">$40.00</text>
<text x="1767.52" y="221" fill="#000" textLength="54.17" lengthAdjust="spacingAndGlyphs">$30.00</text>
<text x="1767.52" y="293" fill="#000" textLength="54.17" lengthAdjust="spacingAndGlyphs">$20.00</text>
<text x="1767.52" y="365.8" fill="#000" textLength="54.17" lengthAdjust="spacingAndGlyphs">$10.00</text>
<text x="1767.64" y="438.2" fill="#000" textLength="20.2" lengthAdjust="spacingAndGlyphs">$0</text>
<text x="104.68" y="475.9" fill="#000" textLength="52.47" lengthAdjust="spacingAndGlyphs">16 Jan</text>
<text x="179.85" y="475.9" fill="#000" textLength="53.08" lengthAdjust="spacingAndGlyphs">30 Jan</text>
<text x="255.99" y="475.9" fill="#000" textLength="53.48" lengthAdjust="spacingAndGlyphs">13 Feb</text>
<text x="331.6" y="475.9" fill="#000" textLength="53.84" lengthAdjust="spacingAndGlyphs">27 Feb</text>
<text x="406.93" y="475.9" fill="#000" textLength="54.11" lengthAdjust="spacingAndGlyphs">13 Mar</text>
<text x="483.36" y="475.9" fill="#000" textLength="53.72" lengthAdjust="spacingAndGlyphs">27 Mar</text>
<text x="560.52" y="475.9" fill="#000" textLength="51.45" lengthAdjust="spacingAndGlyphs">10 Apr</text>
<text x="636.5" y="475.9" fill="#000" textLength="51.65" lengthAdjust="spacingAndGlyphs">24 Apr</text>
<text x="714.41" y="475.9" fill="#000" textLength="47.21" lengthAdjust="spacingAndGlyphs">8 May</text>
<text x="786.11" y="475.9" fill="#000" textLength="56.14" lengthAdjust="spacingAndGlyphs">22 May</text>
<text x="868.25" y="475.9" fill="#000" textLength="43.77" lengthAdjust="spacingAndGlyphs">5 Jun</text>
<text x="939.32" y="475.9" fill="#000" textLength="53.63" lengthAdjust="spacingAndGlyphs">19 Jun</text>
<text x="1023.36" y="475.9" fill="#000" textLength="37.89" lengthAdjust="spacingAndGlyphs">3 Jul</text>
<text x="1092" y="475.9" fill="#000" textLength="50" lengthAdjust="spacingAndGlyphs">17 Jul</text>
<text x="1168" y="475.9" fill="#000" textLength="50" lengthAdjust="spacingAndGlyphs">31 Jul</text>
<text x="1243.55" y="475.9" fill="#000" textLength="54.95" lengthAdjust="spacingAndGlyphs">14 Aug</text>
<text x="1318.49" y="475.9" fill="#000" textLength="55.25" lengthAdjust="spacingAndGlyphs">28 Aug</text>
<text x="1394.14" y="475.9" fill="#000" textLength="54.73" lengthAdjust="spacingAndGlyphs">11 Sep</text>
<text x="1469.87" y="475.9" fill="#000" textLength="54.8" lengthAdjust="spacingAndGlyphs">25 Sep</text>
<text x="1552.67" y="475.9" fill="#000" textLength="41.02" lengthAdjust="spacingAndGlyphs">9 Oct</text>
<text x="1623.89" y="475.9" fill="#000" textLength="51.06" lengthAdjust="spacingAndGlyphs">23 Oct</text>
<text x="1702.42" y="475.9" fill="#000" textLength="46" lengthAdjust="spacingAndGlyphs">6 Nov</text>
<rect x="0" y="112.6" width="130.8" height="32.4" rx="4" fill="#cbcbcb"/>
<text x="10.37" y="134" fill="#fff" stroke="#fff" stroke-width="0.5" textLength="110.57" lengthAdjust="spacingAndGlyphs">29,230,769.23</text>
<rect x="1760" y="112.5" width="64.1" height="32.2" rx="4" fill="#cbcbcb"/>
<text x="1770.35" y="133.8" fill="#fff" stroke="#fff" stroke-width="0.5" textLength="44.08" lengthAdjust="spacingAndGlyphs">41.93</text>
<rect x="1079" y="454.6" width="164.9" height="32.5" rx="4" fill="#000"/>
<text x="1089.05" y="476.2" fill="#fff" stroke="#fff" stroke-width="0.5" textLength="144.64" lengthAdjust="spacingAndGlyphs">25 Jul 2025, 03:00</text>
</g>
</svg>
</body></html>
